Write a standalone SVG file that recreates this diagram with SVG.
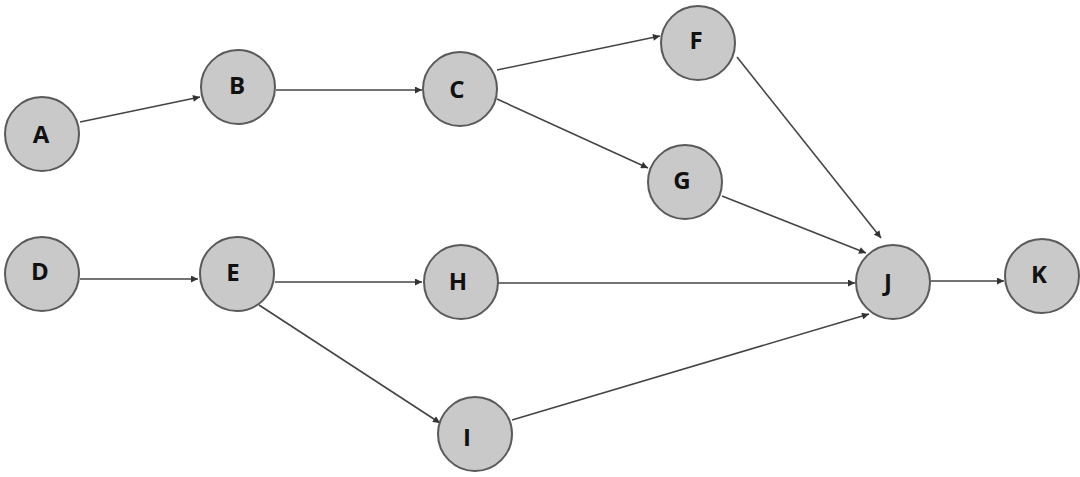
<svg xmlns="http://www.w3.org/2000/svg" width="1080" height="477" viewBox="0 0 1080 477">
<defs>
<marker id="ah" viewBox="0 0 10 10" refX="10" refY="5" markerWidth="8" markerHeight="7" markerUnits="userSpaceOnUse" orient="auto">
<path d="M0,0 L10,5 L0,10 z" fill="#333"/>
</marker>
<style>
.n circle{fill:#c9c9c9;stroke:#5a5a5a;stroke-width:2}
.n text{font-family:"Open Sans","Liberation Sans",sans-serif;font-weight:bold;font-size:24px;fill:#111;text-anchor:middle;dominant-baseline:central}
.e line{stroke:#444;stroke-width:1.6;marker-end:url(#ah)}
</style>
</defs>
<rect width="1080" height="477" fill="#fff"/>
<g class="e" id="edges">
<line x1="80" y1="122" x2="200" y2="97"/>
<line x1="276" y1="90" x2="422" y2="90"/>
<line x1="497" y1="70" x2="660" y2="36"/>
<line x1="497" y1="99" x2="648" y2="168"/>
<line x1="737" y1="57" x2="881" y2="238"/>
<line x1="722" y1="196" x2="866" y2="253"/>
<line x1="80" y1="279" x2="198" y2="279"/>
<line x1="275" y1="282" x2="422" y2="282"/>
<line x1="259" y1="305" x2="440" y2="423"/>
<line x1="498" y1="283" x2="855" y2="283"/>
<line x1="512" y1="420" x2="869" y2="314"/>
<line x1="931" y1="281" x2="1004" y2="281"/>
</g>
<g class="n" id="A"><circle cx="42" cy="134" r="37"/><text x="41" y="133">A</text></g>
<g class="n" id="B"><circle cx="238" cy="87" r="37"/><text x="237" y="84">B</text></g>
<g class="n" id="C"><circle cx="460" cy="89" r="37"/><text x="457" y="88">C</text></g>
<g class="n" id="F"><circle cx="698" cy="43" r="37"/><text x="696" y="39">F</text></g>
<g class="n" id="G"><circle cx="685" cy="182" r="37"/><text x="682" y="179">G</text></g>
<g class="n" id="D"><circle cx="42" cy="274" r="37"/><text x="40" y="270">D</text></g>
<g class="n" id="E"><circle cx="237" cy="274" r="37"/><text x="233" y="271">E</text></g>
<g class="n" id="H"><circle cx="461" cy="282" r="37"/><text x="458" y="280">H</text></g>
<g class="n" id="I"><circle cx="475" cy="434" r="37"/><text x="467" y="436">I</text></g>
<g class="n" id="J"><circle cx="893" cy="282" r="37"/><text x="888" y="281">J</text></g>
<g class="n" id="K"><circle cx="1042" cy="276" r="37"/><text x="1039" y="273">K</text></g>
</svg>
